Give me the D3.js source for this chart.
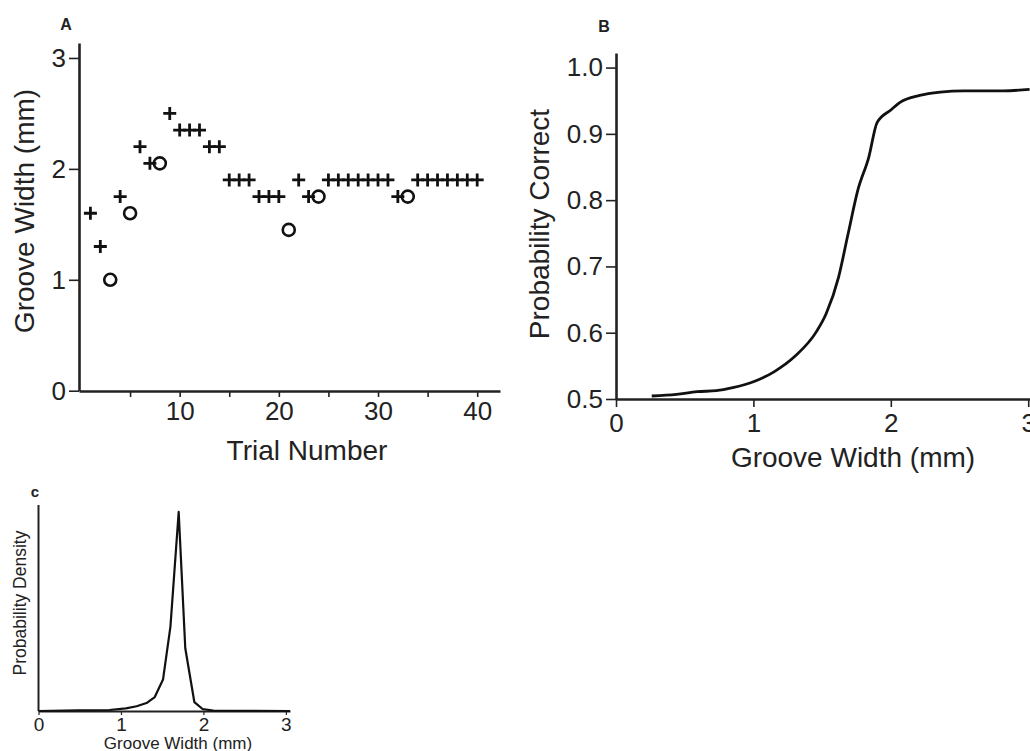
<!DOCTYPE html>
<html>
<head>
<meta charset="utf-8">
<script src="https://cdn.jsdelivr.net/npm/d3@7"></script>
<style>
  body { margin: 0; background: #fff; }
  svg { display: block; }
  text { font-family: "Liberation Sans", Arial, Helvetica, sans-serif; fill: #222; }
  .axis path, .axis line { stroke: #222; }
</style>
</head>
<body>
<script>
// Panel A: staircase trials
var trialsA = [1, 2, 3, 4, 5, 6, 7, 8, 9, 10,
  11, 12, 13, 14, 15, 16, 17, 18, 19, 20,
  21, 22, 23, 24, 25, 26, 27, 28, 29, 30,
  31, 32, 33, 34, 35, 36, 37, 38, 39, 40];
var widthsA = [1.60, 1.30, 1.00, 1.75, 1.60, 2.20, 2.05, 2.05, 2.50, 2.35,
  2.35, 2.35, 2.20, 2.20, 1.90, 1.90, 1.90, 1.75, 1.75, 1.75,
  1.45, 1.90, 1.75, 1.75, 1.90, 1.90, 1.90, 1.90, 1.90, 1.90,
  1.90, 1.75, 1.75, 1.90, 1.90, 1.90, 1.90, 1.90, 1.90, 1.90];
// "+" correct, "o" error
var responsesA = ["+", "+", "o", "+", "o", "+", "+", "o", "+", "+",
  "+", "+", "+", "+", "+", "+", "+", "+", "+", "+",
  "o", "+", "+", "o", "+", "+", "+", "+", "+", "+",
  "+", "+", "o", "+", "+", "+", "+", "+", "+", "+"];
var xTicksA = [5, 10, 15, 20, 25, 30, 35, 40];
var yTicksA = [0, 1, 2, 3];

// Panel B: psychometric function
var widthsB = [0.26, 0.44, 0.59, 0.73, 0.85, 1.00, 1.15, 1.30, 1.46, 1.53, 1.62, 1.69,
  1.76, 1.84, 1.90, 2.00, 2.07, 2.21, 2.36, 2.53, 2.82, 3.01];
var probB = [0.5045, 0.507, 0.511, 0.5125, 0.517, 0.526, 0.541, 0.564, 0.602, 0.629, 0.684, 0.750,
  0.815, 0.865, 0.917, 0.936, 0.948, 0.958, 0.963, 0.965, 0.965, 0.967];
var xTicksB = [0, 1, 2, 3];
var yTicksB = [0.5, 0.6, 0.7, 0.8, 0.9, 1.0];

// Panel C: threshold density
var widthsC = [0.00, 0.48, 0.86, 1.06, 1.19, 1.31, 1.41, 1.51, 1.60, 1.70,
  1.78, 1.89, 1.99, 2.12, 3.05];
var densityC = [0.000, 0.003, 0.005, 0.013, 0.024, 0.040, 0.070, 0.158, 0.424, 1.000,
  0.315, 0.045, 0.010, 0.002, 0.000];
var xTicksC = [0, 1, 2, 3];

var svg = d3.select("body").append("svg")
  .attr("width", 1030)
  .attr("height", 751);

svg.append("rect").attr("width", 1030).attr("height", 751).attr("fill", "#fff");

// ---------- Panel A ----------
var xA = d3.scaleLinear().domain([-0.15, 42.3]).range([79, 500]);
var yA = d3.scaleLinear().domain([0, 3.135]).range([390.7, 43]);

var axA = svg.append("g").attr("class", "axis")
  .attr("transform", "translate(0,391)")
  .call(d3.axisBottom(xA).tickValues(xTicksA).tickSize(6).tickPadding(5).tickSizeOuter(0)
    .tickFormat(d => d % 10 === 0 ? d : ""));
var ayA = svg.append("g").attr("class", "axis")
  .attr("transform", "translate(79,0)")
  .call(d3.axisLeft(yA).tickValues(yTicksA).tickSize(10).tickPadding(3).tickSizeOuter(0)
    .tickFormat(d3.format("d")));

[axA, ayA].forEach(function(g) {
  g.select(".domain").attr("stroke-width", 2.6);
  g.selectAll(".tick line").attr("stroke-width", 1.6);
  g.selectAll(".tick text").style("font-size", "26px").attr("fill", "#222");
});

var ptsA = trialsA.map(function(t, i) { return { t: t, w: widthsA[i], r: responsesA[i] }; });

svg.append("g").selectAll("path")
  .data(ptsA.filter(d => d.r === "+"))
  .enter().append("path")
  .attr("d", function(d) {
    var cx = xA(d.t), cy = yA(d.w), h = 6.5;
    return "M" + (cx - h) + "," + cy + "H" + (cx + h) + "M" + cx + "," + (cy - h) + "V" + (cy + h);
  })
  .attr("stroke", "#111")
  .attr("stroke-width", 2.8)
  .attr("fill", "none");

svg.append("g").selectAll("circle")
  .data(ptsA.filter(d => d.r === "o"))
  .enter().append("circle")
  .attr("cx", d => xA(d.t))
  .attr("cy", d => yA(d.w))
  .attr("r", 6)
  .attr("stroke", "#111")
  .attr("stroke-width", 2.6)
  .attr("fill", "none");

svg.append("text")
  .attr("x", 66).attr("y", 30)
  .attr("text-anchor", "middle")
  .style("font-size", "16px").style("font-weight", "bold")
  .text("A");

svg.append("text")
  .attr("x", 307).attr("y", 460)
  .attr("text-anchor", "middle")
  .style("font-size", "28px")
  .text("Trial Number");

svg.append("text")
  .attr("transform", "translate(34,211) rotate(-90)")
  .attr("text-anchor", "middle")
  .style("font-size", "28px")
  .text("Groove Width (mm)");

// ---------- Panel B ----------
var xB = d3.scaleLinear().domain([0, 3.013]).range([616, 1030]);
var yB = d3.scaleLinear().domain([0.5, 1.022]).range([399, 53]);

var axB = svg.append("g").attr("class", "axis")
  .attr("transform", "translate(0,399)")
  .call(d3.axisBottom(xB).tickValues(xTicksB).tickSize(8).tickPadding(7).tickSizeOuter(0)
    .tickFormat(d3.format("d")));
var ayB = svg.append("g").attr("class", "axis")
  .attr("transform", "translate(616,0)")
  .call(d3.axisLeft(yB).tickValues(yTicksB).tickSize(10).tickPadding(3).tickSizeOuter(0)
    .tickFormat(d3.format(".1f")));

[axB, ayB].forEach(function(g) {
  g.select(".domain").attr("stroke-width", 2.6);
  g.selectAll(".tick line").attr("stroke-width", 1.6);
  g.selectAll(".tick text").style("font-size", "26px").attr("fill", "#222");
});

var lineB = d3.line()
  .x((d, i) => xB(widthsB[i]))
  .y(d => yB(d))
  .curve(d3.curveMonotoneX);

svg.append("path")
  .datum(probB)
  .attr("d", lineB)
  .attr("fill", "none")
  .attr("stroke", "#111")
  .attr("stroke-width", 2.8);

svg.append("text")
  .attr("x", 604).attr("y", 32)
  .attr("text-anchor", "middle")
  .style("font-size", "16px").style("font-weight", "bold")
  .text("B");

svg.append("text")
  .attr("x", 853).attr("y", 467)
  .attr("text-anchor", "middle")
  .style("font-size", "28px")
  .text("Groove Width (mm)");

svg.append("text")
  .attr("transform", "translate(549,224) rotate(-90)")
  .attr("text-anchor", "middle")
  .style("font-size", "28px")
  .text("Probability Correct");

// ---------- Panel C ----------
var xC = d3.scaleLinear().domain([0, 3.05]).range([38.5, 290]);
var yC = d3.scaleLinear().domain([0, 1.035]).range([711, 505]);

var axC = svg.append("g").attr("class", "axis")
  .attr("transform", "translate(0,711)")
  .call(d3.axisBottom(xC).tickValues(xTicksC).tickSize(4).tickPadding(3).tickSizeOuter(0)
    .tickFormat(d3.format("d")));
svg.append("line")
  .attr("x1", 38.5).attr("x2", 38.5)
  .attr("y1", 505).attr("y2", 711)
  .attr("stroke", "#222").attr("stroke-width", 2);

axC.select(".domain").attr("stroke-width", 2);
axC.selectAll(".tick line").attr("stroke-width", 1.2);
axC.selectAll(".tick text").style("font-size", "19px").attr("fill", "#222");

var lineC = d3.line()
  .x((d, i) => xC(widthsC[i]))
  .y(d => yC(d));

svg.append("path")
  .datum(densityC)
  .attr("d", lineC)
  .attr("fill", "none")
  .attr("stroke", "#111")
  .attr("stroke-width", 2.2)
  .attr("stroke-linejoin", "round");

svg.append("text")
  .attr("x", 35).attr("y", 497)
  .attr("text-anchor", "middle")
  .style("font-size", "15px").style("font-weight", "bold")
  .text("c");

svg.append("text")
  .attr("x", 178).attr("y", 749)
  .attr("text-anchor", "middle")
  .style("font-size", "17px")
  .text("Groove Width (mm)");

svg.append("text")
  .attr("transform", "translate(26,603) rotate(-90)")
  .attr("text-anchor", "middle")
  .style("font-size", "17.5px")
  .text("Probability Density");
</script>
</body>
</html>
